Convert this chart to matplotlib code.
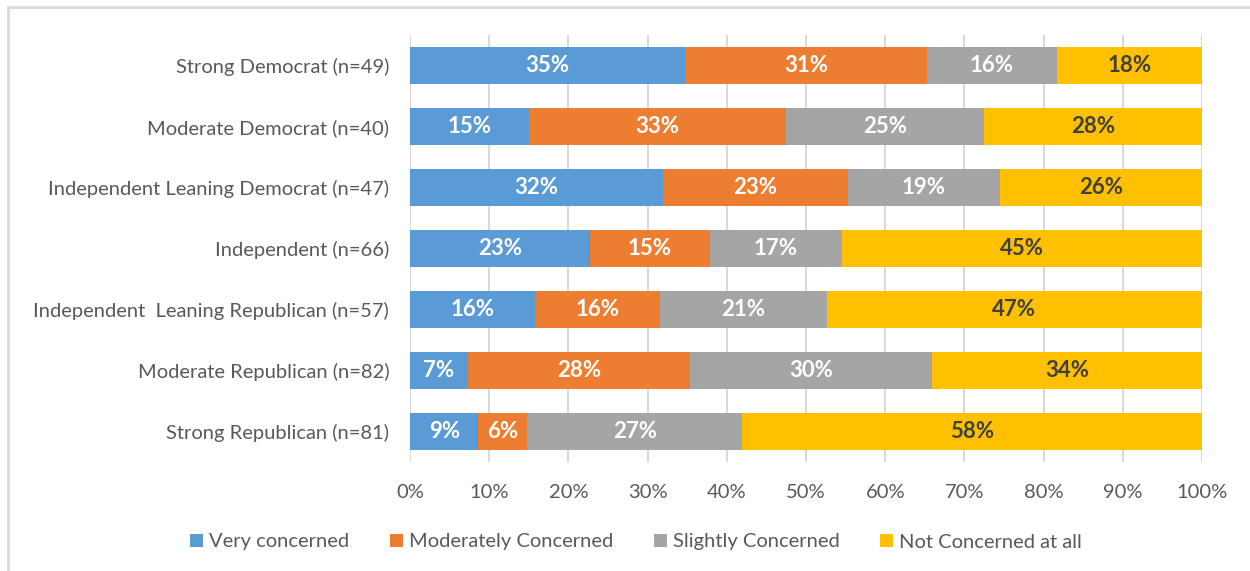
import matplotlib
matplotlib.use("Agg")
import matplotlib.pyplot as plt
from matplotlib.patches import Rectangle
import numpy as np

categories = [
    "Strong Democrat (n=49)",
    "Moderate Democrat (n=40)",
    "Independent Leaning Democrat (n=47)",
    "Independent (n=66)",
    "Independent  Leaning Republican (n=57)",
    "Moderate Republican (n=82)",
    "Strong Republican (n=81)",
]
series = ["Very concerned", "Moderately Concerned", "Slightly Concerned", "Not Concerned at all"]
very = [17, 6, 15, 15, 9, 6, 7]
moderately = [15, 13, 11, 10, 9, 23, 5]
slightly = [8, 10, 9, 11, 12, 25, 22]
not_at_all = [9, 11, 12, 30, 27, 28, 47]
colors = ["#5B9BD5", "#ED7D31", "#A5A5A5", "#FFC000"]
label_colors = ["white", "white", "white", "#404040"]
xticks = [0, 10, 20, 30, 40, 50, 60, 70, 80, 90, 100]

plt.rcParams['font.family'] = ['Lato', 'DejaVu Sans']

counts = np.array([very, moderately, slightly, not_at_all], dtype=float)
totals = counts.sum(axis=0)
pct = counts / totals * 100

fig = plt.figure(figsize=(12.5, 5.71), dpi=100)
W, H = 1250, 571
ax = fig.add_axes([410 / W, 1 - 462 / H, (1202 - 410) / W, (462 - 35) / H])

y = np.arange(len(categories))
left = np.zeros(len(categories))
for i, s in enumerate(series):
    ax.barh(y, pct[i], left=left, height=0.6, color=colors[i], label=s, zorder=3)
    for j, v in enumerate(pct[i]):
        ax.text(left[j] + v / 2, y[j], f"{int(v + 0.5)}%", ha="center", va="center",
                color=label_colors[i], fontsize=16, fontweight="bold", zorder=4)
    left += pct[i]

ax.set_ylim(len(categories) - 0.5, -0.5)
ax.set_xlim(0, 100)
ax.set_yticks(y)
ax.set_yticklabels(categories, fontsize=14.5, color="#595959")
ax.set_xticks(xticks)
ax.set_xticklabels([f"{t}%" for t in xticks], fontsize=14.5, color="#595959")
ax.tick_params(axis="both", length=0)
ax.tick_params(axis="y", pad=15)
ax.tick_params(axis="x", pad=16)
ax.grid(axis="x", color="#D9D9D9", linewidth=1.5, zorder=0)
for sp in ax.spines.values():
    sp.set_visible(False)

leg = fig.legend(loc="center", bbox_to_anchor=(636 / W, 1 - 542 / H), ncol=4, frameon=False,
                 fontsize=14.5, handlelength=0.65, handleheight=0.65, handletextpad=0.3,
                 columnspacing=2.0)
for t in leg.get_texts():
    t.set_color("#595959")

fig.patches.append(Rectangle((8 / W, -0.1), 1.2, 1 - 7 / H + 0.1, transform=fig.transFigure,
                             fill=False, edgecolor="#D9D9D9", linewidth=2))

fig.savefig("out.png", dpi=100)
